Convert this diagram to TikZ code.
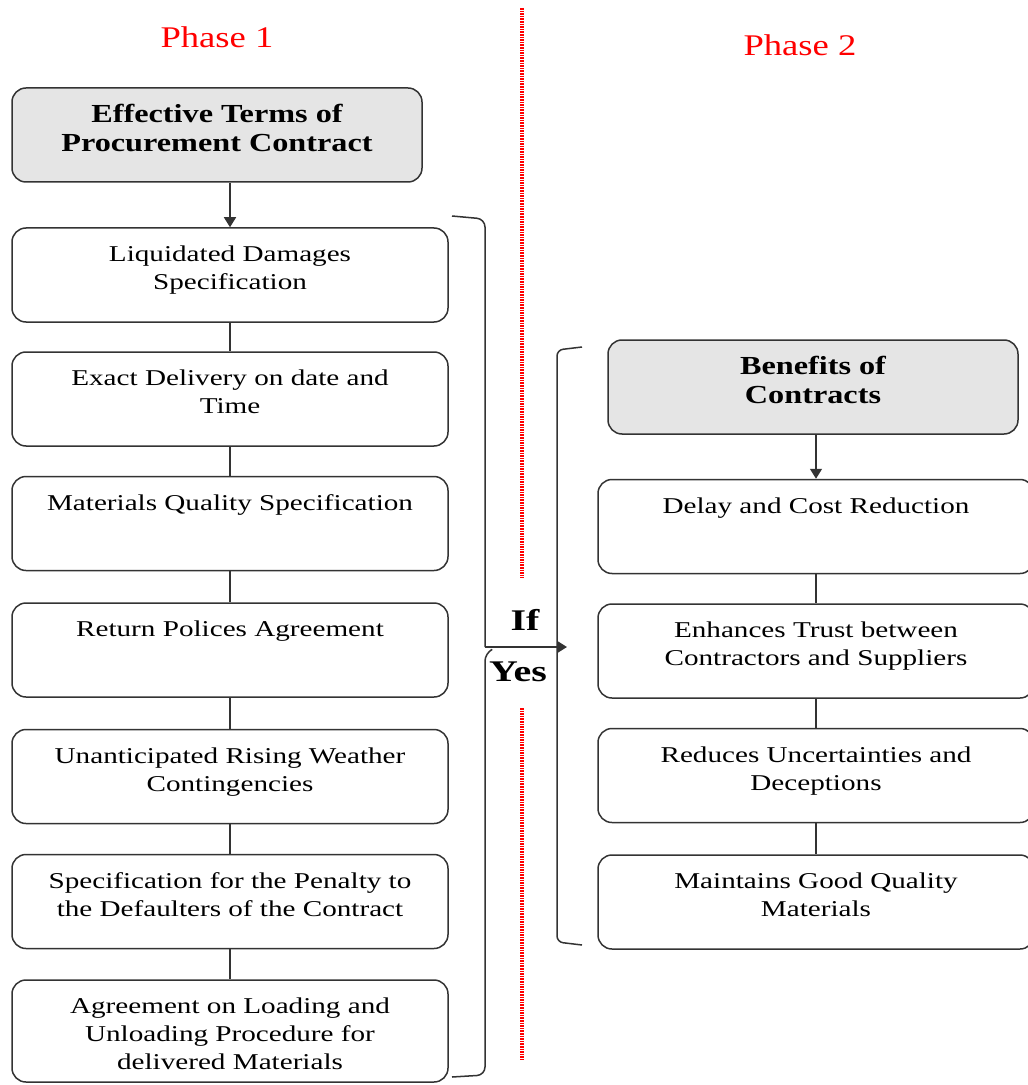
\documentclass[tikz,border=0pt]{standalone}
\usepackage{fontspec}
\setmainfont{Liberation Serif}
\usetikzlibrary{arrows.meta}
\newcommand{\toptxt}[3]{\parbox[t][#2][t]{#1}{\centering\strut #3}}
\tikzset{
	termbox/.style={draw=black!80, line width=0.75pt, rounded corners=7pt, inner xsep=2pt, inner ysep=7pt, font=\fontsize{11.3}{14}\selectfont\addfontfeatures{FakeStretch=1.29}},
	headbox/.style={termbox, fill=black!10, font=\fontsize{13}{14.7}\selectfont\bfseries\addfontfeatures{FakeStretch=1.24}},
	phase/.style={text=red, font=\fontsize{15}{18}\selectfont\addfontfeatures{FakeStretch=1.22}},
	yesno/.style={font=\fontsize{15}{17}\selectfont\bfseries\addfontfeatures{FakeStretch=1.33}},
	link/.style={draw=black!80, line width=0.75pt},
	flow/.style={link, -{Triangle[width=6pt,length=5pt]}},
	divider/.style={red, line width=1.6pt, dash pattern=on 0.8pt off 0.5pt}
}
\begin{document}
\begin{tikzpicture}[x=0.5pt, y=-0.5pt]
			%%%%% START %%%%%
			\useasboundingbox (0, 0) rectangle (1027, 1085);
			
			\node[phase] (ph1) at (217, 37) {Phase 1};
			\node[phase] (ph2) at (800, 45) {Phase 2};
			
			\draw[divider] (522, 8) -- (522, 578);
			\draw[divider] (522, 708) -- (522, 1060);
			
			% phase 1
			\node[headbox] (eff) at (217, 135) {\toptxt{201pt}{33pt}{Effective Terms of\\Procurement Contract}};
			\node[termbox] (liq) at (230, 275) {\toptxt{214pt}{33pt}{Liquidated Damages\\Specification}};
			\node[termbox] (dlv) at (230, 399) {\toptxt{214pt}{33pt}{Exact Delivery on date and\\Time}};
			\node[termbox] (qly) at (230, 523.5) {\toptxt{214pt}{33pt}{Materials Quality Specification}};
			\node[termbox] (rtn) at (230, 650) {\toptxt{214pt}{33pt}{Return Polices Agreement}};
			\node[termbox] (wth) at (230, 776.5) {\toptxt{214pt}{33pt}{Unanticipated Rising Weather\\Contingencies}};
			\node[termbox] (pen) at (230, 901.5) {\toptxt{214pt}{33pt}{Specification for the Penalty to\\the Defaulters of the Contract}};
			\node[termbox] (load) at (230, 1031) {\toptxt{214pt}{37pt}{Agreement on Loading and\\Unloading Procedure for\\delivered Materials}};
			
			\draw[flow] (eff.south -| liq.north) -- (liq.north);
			\draw[link] (liq) -- (dlv);
			\draw[link] (dlv) -- (qly);
			\draw[link] (qly) -- (rtn);
			\draw[link] (rtn) -- (wth);
			\draw[link] (wth) -- (pen);
			\draw[link] (pen) -- (load);
			
			% phase 2
			\node[headbox] (ben) at (813, 387) {\toptxt{201pt}{33pt}{Benefits of\\Contracts}};
			\node[termbox] (dcr) at (816, 526.5) {\toptxt{214pt}{33pt}{Delay and Cost Reduction}};
			\node[termbox] (trs) at (816, 651) {\toptxt{214pt}{33pt}{Enhances Trust between\\Contractors and Suppliers}};
			\node[termbox] (unc) at (816, 775.5) {\toptxt{214pt}{33pt}{Reduces Uncertainties and\\Deceptions}};
			\node[termbox] (mqm) at (816, 902) {\toptxt{214pt}{33pt}{Maintains Good Quality\\Materials}};
			
			\draw[flow] (ben.south -| dcr.north) -- (dcr.north);
			\draw[link] (dcr) -- (trs);
			\draw[link] (trs) -- (unc);
			\draw[link] (unc) -- (mqm);
			
			% brackets
			\draw[link, rounded corners=4] (452, 216) -- (485, 219) -- (485, 647);
			\draw[link, rounded corners=4] (491, 650) -- (485, 653) -- (485, 1075) -- (452, 1077);
			\draw[link, rounded corners=3] (582, 347) -- (557, 350) -- (557, 942) -- (582, 945);
			
			\coordinate (ifstart) at (485, 647);
			\coordinate (ifend) at (567, 647);
			\draw[flow, line width=1pt] (ifstart) -- (ifend);
			\node[yesno] (if) at (525, 620) {If};
			\node[yesno] (yes) at (518, 672) {Yes};
			
			%%%%% END %%%%%
		\end{tikzpicture}
\end{document}
